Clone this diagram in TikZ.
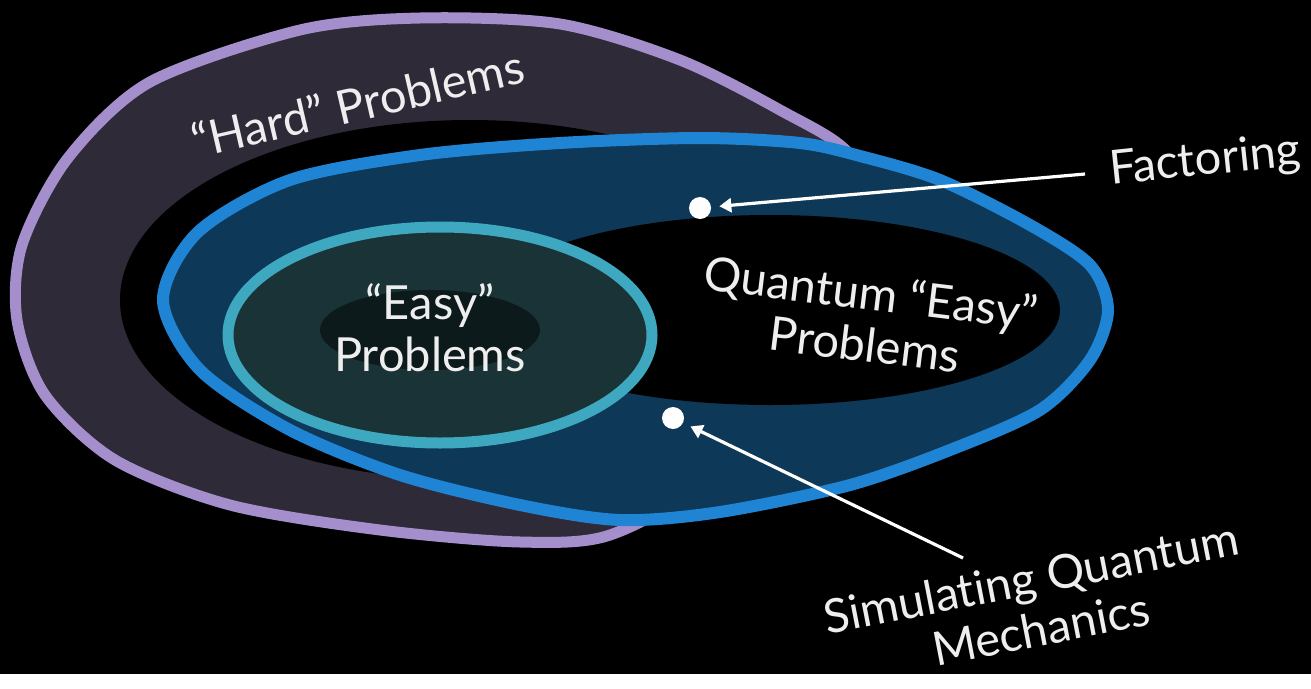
\documentclass[tikz,border=0pt]{standalone}
\usepackage{fontspec}
\setmainfont{Lato}[Ligatures={NoCommon,NoRequired}]
\usetikzlibrary{arrows.meta}
\definecolor{hardline}{HTML}{A48FCC}
\definecolor{hardband}{HTML}{2E2A38}
\definecolor{qline}{HTML}{2084D4}
\definecolor{qband}{HTML}{0D3858}
\definecolor{easyline}{HTML}{3EA8C0}
\definecolor{easyband}{HTML}{1A3336}
\definecolor{easycore}{HTML}{0C1A1C}
\definecolor{chalkwhite}{HTML}{EEEEEE}

\begin{document}
\begin{tikzpicture}[x=0.5pt,y=-0.5pt,
    chalk/.style={line width=5.5pt,line join=round},
    label/.style={text=chalkwhite,font=\fontsize{23.5}{26}\selectfont,align=center,inner sep=1pt},
    dot/.style={circle,fill=white,minimum size=11pt,inner sep=0pt},
    pointer/.style={draw=white,line width=1.6pt,-{Triangle[width=7pt,length=6pt]},shorten >=4pt}
]

\fill[black] (0,0) rectangle (1311,674);

% "hard" region
\fill[hardband] plot[smooth cycle] coordinates {(300,30) (420,18) (560,24) (680,60) (780,110) (850,155)
    (870,230) (820,330) (700,480) (610,535) (520,542) (380,530) (230,505) (115,460) (45,395) (17,320)
    (22,245) (68,158) (150,82)};
\fill[black] (470,300) ellipse [x radius=350, y radius=180];
\draw[chalk,hardline] plot[smooth cycle] coordinates {(300,30) (420,18) (560,24) (680,60) (780,110) (850,155)
    (870,230) (820,330) (700,480) (610,535) (520,542) (380,530) (230,505) (115,460) (45,395) (17,320)
    (22,245) (68,158) (150,82)};

% quantum region
\fill[qband] plot[smooth cycle] coordinates {(163,300) (198,232) (290,180) (420,155) (560,143) (700,138)
    (800,143) (860,156) (940,180) (1030,225) (1090,265) (1108,310) (1090,360) (1040,410) (950,450)
    (850,485) (720,512) (620,520) (520,505) (400,475) (290,430) (200,370)};
\fill[black] (770,310) ellipse [x radius=290, y radius=95];
\draw[chalk,qline,line width=6pt] plot[smooth cycle] coordinates {(163,300) (198,232) (290,180) (420,155) (560,143) (700,138)
    (800,143) (860,156) (940,180) (1030,225) (1090,265) (1108,310) (1090,360) (1040,410) (950,450)
    (850,485) (720,512) (620,520) (520,505) (400,475) (290,430) (200,370)};

% easy region
\fill[easyband] (440,335) ellipse [x radius=212, y radius=108];
\fill[easycore] (430,330) ellipse [x radius=110, y radius=40];
\draw[chalk,easyline] (440,335) ellipse [x radius=212, y radius=108];

% labels
\node[label,rotate=13] (hard) at (358,103) {“Hard” Problems};
\node[label] (easy) at (430,328) {“Easy”\\Problems};
\node[label,rotate=-7] (quantum) at (868,318) {Quantum “Easy”\\Problems};
\node[label,rotate=6] (factoring) at (1205,162) {Factoring};
\node[label,rotate=11] (simulating) at (1036,603) {Simulating Quantum\\Mechanics};

% problems
\node[dot] (fdot) at (700,208) {};
\node[dot] (sdot) at (673,418) {};
\coordinate (fstart) at (1085,174);
\coordinate (sstart) at (963,558);
\draw[pointer] (fstart) -- (fdot);
\draw[pointer] (sstart) -- (sdot);

\end{tikzpicture}
\end{document}
